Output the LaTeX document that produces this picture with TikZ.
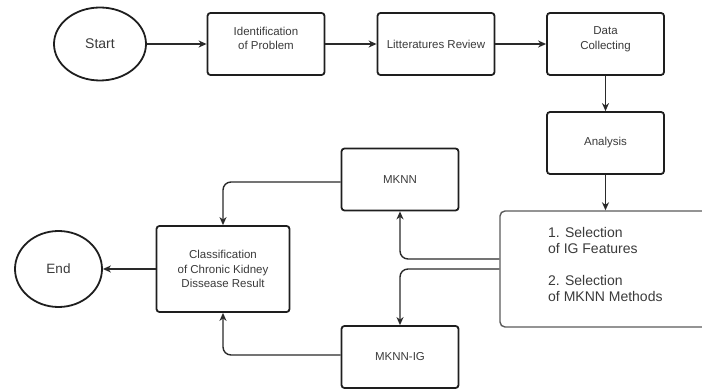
\documentclass[tikz,border=0pt]{standalone}
\usepackage{fontspec}
\setmainfont{Liberation Sans}
\usetikzlibrary{arrows.meta,shapes.geometric}
\definecolor{txt}{HTML}{3A3A3A}
\definecolor{edge}{HTML}{1E1E1E}
\definecolor{lnk}{HTML}{2A2A2A}
\definecolor{selb}{HTML}{5A5A5A}
\tikzset{
  boxstyle/.style={draw=edge, line width=1.8pt, rounded corners=3pt, minimum width=117pt, minimum height=62pt, align=center, text=txt, font=\fontsize{11.5}{14.5}\selectfont, inner sep=2pt},
  ovalstyle/.style={draw=edge, line width=1.8pt, ellipse, text=txt, font=\fontsize{14}{16}\selectfont, inner sep=0pt},
  selbox/.style={draw=selb, line width=1.4pt, rounded corners=5pt, minimum width=212pt, minimum height=116pt},
  seltext/.style={text=txt, font=\fontsize{14}{16}\selectfont, align=left, inner sep=0pt},
  conn/.style={draw=lnk, line width=1.4pt, -{Stealth[length=8pt,width=7pt,inset=2.5pt]}},
  rconn/.style={conn, rounded corners=8pt}
}
\begin{document}
\begin{tikzpicture}[x=1pt,y=-1pt]
\useasboundingbox (0,0) rectangle (702,390);
\clip (0,0) rectangle (702,390);
\node[ovalstyle, minimum width=92pt, minimum height=73pt] (start) at (100,44) {Start};
\node[boxstyle] (ident) at (266,44) {Identification\\of Problem\\[-3pt]};
\node[boxstyle] (lit) at (436,44) {\raisebox{-3pt}{Litteratures Review}};
\node[boxstyle] (data) at (605.5,44) {Data\\Collecting\\[-3pt]};
\node[boxstyle] (ana) at (605.5,143) {\raisebox{-3pt}{Analysis}};
\node[selbox] (sel) at (606,269) {};
\node[seltext, anchor=west] (seltxt) at (548,264) {1. Selection\\of IG Features\\[16pt]2. Selection\\of MKNN Methods};
\node[boxstyle] (mknn) at (400,179.5) {MKNN};
\node[boxstyle] (mknnig) at (400,357) {MKNN-IG};
\node[boxstyle, minimum width=133pt, minimum height=86pt] (class) at (223,269) {Classification\\of Chronic Kidney\\Dissease Result};
\node[ovalstyle, minimum width=87pt, minimum height=76pt, font=\fontsize{13.5}{16}\selectfont] (end) at (58.5,269) {End};

\draw[conn] (start) -- (ident);
\draw[conn] (ident) -- (lit);
\draw[conn] (lit) -- (data);
\draw[conn] (data) -- (ana);
\draw[conn] (ana) -- (ana |- sel.north);
\draw[rconn] ([yshift=10pt]sel.west) -| (mknn.south);
\draw[rconn] (sel.west) -| (mknnig.north);
\draw[rconn] ([yshift=-2.5pt]mknn.west) -| (class.north);
\draw[rconn] ([yshift=2pt]mknnig.west) -| (class.south);
\draw[conn] (class) -- (end);
\end{tikzpicture}
\end{document}
